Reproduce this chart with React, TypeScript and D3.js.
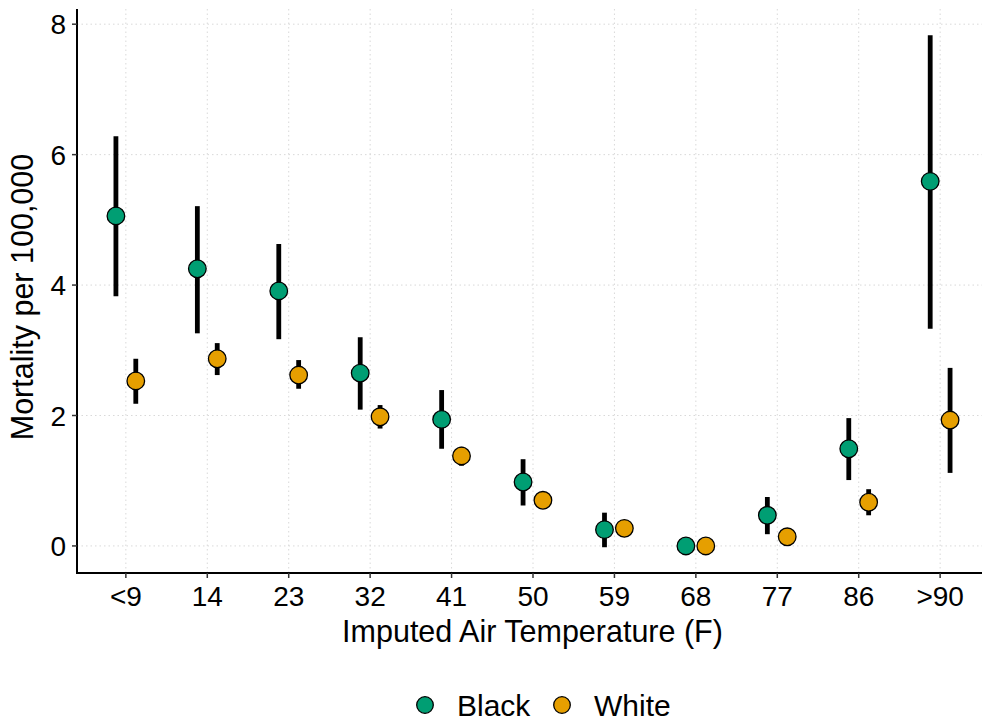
import React from "react";
import * as d3 from "d3";

const categories = ["<9", "14", "23", "32", "41", "50", "59", "68", "77", "86", ">90"];
const blackMean = [5.06, 4.25, 3.91, 2.65, 1.94, 0.98, 0.25, 0.0, 0.47, 1.49, 5.59];
const blackLo = [3.83, 3.26, 3.17, 2.09, 1.49, 0.62, -0.02, 0.0, 0.18, 1.01, 3.33];
const blackHi = [6.28, 5.21, 4.63, 3.2, 2.39, 1.33, 0.51, 0.0, 0.75, 1.96, 7.83];
const whiteMean = [2.53, 2.87, 2.62, 1.98, 1.38, 0.7, 0.27, 0.0, 0.14, 0.67, 1.93];
const whiteLo = [2.18, 2.62, 2.41, 1.8, 1.23, 0.6, 0.2, 0.0, 0.08, 0.47, 1.12];
const whiteHi = [2.87, 3.11, 2.85, 2.16, 1.52, 0.8, 0.34, 0.0, 0.2, 0.87, 2.73];
const yTicks = [0, 2, 4, 6, 8];
const seriesNames = ["Black", "White"];
const seriesColors = ["#009E73", "#E69F00"];

const W = 982;
const H = 721;
const left = 77;
const right = 989;
const top = 9;
const bottom = 573;
const font = "'Liberation Sans', Arial, Helvetica, sans-serif";

export default function App() {
  const x = d3.scalePoint<string>().domain(categories).range([left, right]).padding(0.6);
  const y = d3.scaleLinear().domain([-0.415, 8.233]).range([bottom, top]);
  const off = x.step() * 0.122;

  const series = [
    { name: seriesNames[0], color: seriesColors[0], mean: blackMean, lo: blackLo, hi: blackHi, dx: -off },
    { name: seriesNames[1], color: seriesColors[1], mean: whiteMean, lo: whiteLo, hi: whiteHi, dx: off },
  ];

  return (
    <div style={{ position: "absolute", left: 0, top: 0 }}>
      <svg width={W} height={H} style={{ display: "block", background: "#fff" }}>
        {/* grid */}
        <g stroke="#d9d9d9" strokeWidth={1} strokeDasharray="1.5,3">
          {yTicks.map((t) => (
            <line key={"gy" + t} x1={left} x2={right} y1={y(t)} y2={y(t)} />
          ))}
          {categories.map((c) => (
            <line key={"gx" + c} x1={x(c)} x2={x(c)} y1={top} y2={bottom} />
          ))}
        </g>
        {/* error bars */}
        {series.map((s) => (
          <g key={"e" + s.name}>
            {categories.map((c, i) =>
              s.hi[i] - s.lo[i] > 0 ? (
                <line
                  key={c}
                  x1={(x(c) as number) + s.dx}
                  x2={(x(c) as number) + s.dx}
                  y1={y(s.lo[i])}
                  y2={y(s.hi[i])}
                  stroke="#000"
                  strokeWidth={4.8}
                />
              ) : null
            )}
          </g>
        ))}
        {/* points */}
        {series.map((s) => (
          <g key={"p" + s.name}>
            {categories.map((c, i) => (
              <circle
                key={c}
                cx={(x(c) as number) + s.dx}
                cy={y(s.mean[i])}
                r={8.8}
                fill={s.color}
                stroke="#000"
                strokeWidth={1.3}
              />
            ))}
          </g>
        ))}
        {/* axes */}
        <line x1={left} x2={left} y1={top} y2={bottom + 1} stroke="#000" strokeWidth={2} />
        <line x1={left - 1} x2={right} y1={bottom} y2={bottom} stroke="#000" strokeWidth={2} />
        {yTicks.map((t) => (
          <g key={"yt" + t}>
            <line x1={left - 5} x2={left} y1={y(t)} y2={y(t)} stroke="#333" strokeWidth={1.5} />
            <text
              x={left - 11}
              y={y(t)}
              dy="0.36em"
              textAnchor="end"
              fontFamily={font}
              fontSize={28}
              fill="#000"
            >
              {t}
            </text>
          </g>
        ))}
        {categories.map((c) => (
          <g key={"xt" + c}>
            <line x1={x(c)} x2={x(c)} y1={bottom} y2={bottom + 5} stroke="#333" strokeWidth={1.5} />
            <text
              x={x(c)}
              y={606}
              textAnchor="middle"
              fontFamily={font}
              fontSize={28}
              fill="#000"
            >
              {c}
            </text>
          </g>
        ))}
        <text
          x={(left + 986) / 2 + 1}
          y={642}
          textAnchor="middle"
          fontFamily={font}
          fontSize={30.5}
          fill="#000"
        >
          Imputed Air Temperature (F)
        </text>
        <text
          transform={`translate(33, ${(top + bottom) / 2 + 6}) rotate(-90)`}
          textAnchor="middle"
          fontFamily={font}
          fontSize={30.5}
          fill="#000"
        >
          Mortality per 100,000
        </text>
        {/* legend */}
        <g>
          {series.map((s, i) => {
            const lx = i === 0 ? 425 : 562;
            return (
              <g key={"lg" + s.name}>
                <circle cx={lx} cy={705} r={8.3} fill={s.color} stroke="#000" strokeWidth={1.3} />
                <text x={lx + 32} y={715.5} fontFamily={font} fontSize={30} fill="#000">
                  {s.name}
                </text>
              </g>
            );
          })}
        </g>
      </svg>
    </div>
  );
}
